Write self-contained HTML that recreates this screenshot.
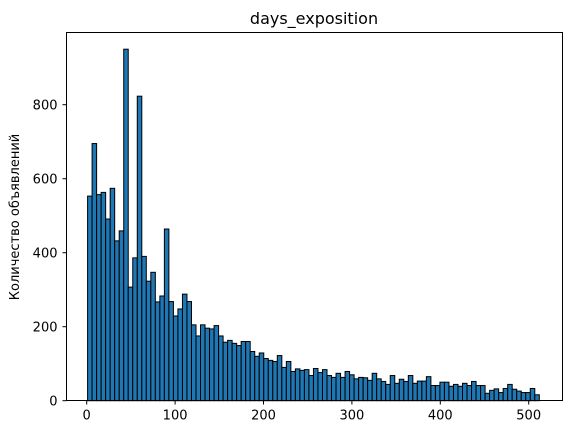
<!DOCTYPE html>
<html><head><meta charset="utf-8"><style>
html,body{margin:0;padding:0;background:#fff;}
svg{display:block;font-family:"DejaVu Sans","Liberation Sans",sans-serif;}
</style></head><body>
<svg id="chart" width="571" height="435">
<text x="314" y="24" font-size="16" text-anchor="middle">days_exposition</text>
<text transform="translate(19,217) rotate(-90)" font-size="13" text-anchor="middle">Количество объявлений</text>
<g id="bars"></g>
<g id="axes"></g>
</svg>
<script>
const binStart = 1;
const binEnd = 512;
const counts = [553,695,557,563,491,574,432,459,950,307,386,823,390,323,347,267,283,464,268,229,248,288,268,205,175,205,196,194,203,175,158,163,155,149,160,160,133,120,129,114,109,106,122,90,106,79,86,82,84,68,87,76,84,68,63,74,63,79,70,59,63,62,55,74,59,52,44,68,47,58,52,68,47,53,53,65,41,41,50,50,39,44,39,47,41,52,41,41,20,28,32,22,33,44,31,26,22,22,33,16];
const xTicks = [0,100,200,300,400,500];
const yTicks = [0,200,400,600,800];

const L=66.5,R=562.5,T=32.5,B=400.5;
const x = d => 86.7 + d*0.884;
const y = v => 400.7 - v*0.37;
const NS="http://www.w3.org/2000/svg";
const bars=document.getElementById('bars');
const w=(binEnd-binStart)/counts.length;
counts.forEach((c,i)=>{
  const r=document.createElementNS(NS,'rect');
  const x0=x(binStart+i*w), x1=x(binStart+(i+1)*w);
  r.setAttribute('x',x0);r.setAttribute('width',x1-x0);
  r.setAttribute('y',y(c));r.setAttribute('height',y(0)-y(c));
  r.setAttribute('fill','#1f77b4');r.setAttribute('stroke','#000');r.setAttribute('stroke-width','1');
  
  
  bars.appendChild(r);
});
const ax=document.getElementById('axes');
const frame=document.createElementNS(NS,'rect');
frame.setAttribute('x',L);frame.setAttribute('y',T);frame.setAttribute('width',R-L);frame.setAttribute('height',B-T);
frame.setAttribute('fill','none');frame.setAttribute('stroke','#000');frame.setAttribute('stroke-width','1');


ax.appendChild(frame);
xTicks.forEach(t=>{
  const l=document.createElementNS(NS,'line');
  l.setAttribute('x1',x(t));l.setAttribute('x2',x(t));l.setAttribute('y1',B);l.setAttribute('y2',B+4);
  l.setAttribute('stroke','#000');
  
  
  ax.appendChild(l);
  const tx=document.createElementNS(NS,'text');
  tx.setAttribute('x',x(t));tx.setAttribute('y',B+19);tx.setAttribute('font-size','13');tx.setAttribute('text-anchor','middle');
  tx.textContent=t;
  
  
  ax.appendChild(tx);
});
yTicks.forEach(t=>{
  const l=document.createElementNS(NS,'line');
  l.setAttribute('x1',L-4);l.setAttribute('x2',L);l.setAttribute('y1',y(t));l.setAttribute('y2',y(t));
  l.setAttribute('stroke','#000');
  
  
  ax.appendChild(l);
  const tx=document.createElementNS(NS,'text');
  tx.setAttribute('x',L-9);tx.setAttribute('y',y(t)+5);tx.setAttribute('font-size','13');tx.setAttribute('text-anchor','end');
  tx.textContent=t;
  
  
  ax.appendChild(tx);
});
</script>
</body></html>
